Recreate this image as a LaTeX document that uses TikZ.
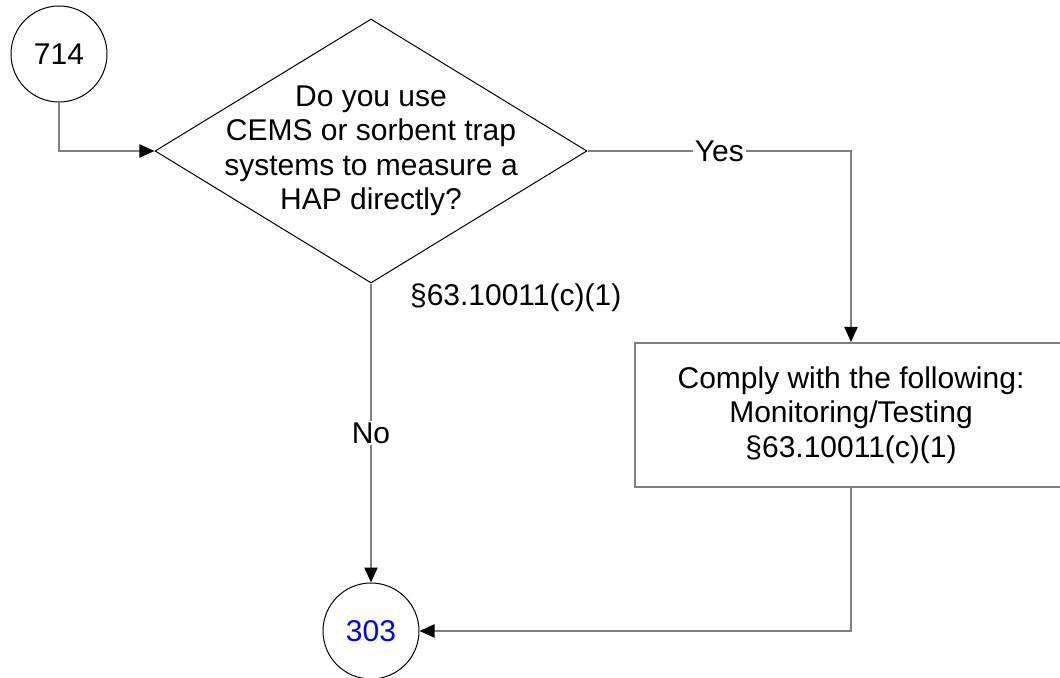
\documentclass[tikz,border=0pt]{standalone}
\usepackage{fontspec}
\setmainfont{Liberation Sans}
\usetikzlibrary{arrows.meta,shapes.geometric}
\definecolor{linegray}{HTML}{808080}

\begin{document}
\begin{tikzpicture}[
    x=0.5pt, y=-0.5pt,
    font=\fontsize{15}{17.25}\selectfont,
    conn/.style={
        circle, draw, line width=0.5pt,
        minimum size=48pt, inner sep=0pt
    },
    decision/.style={
        diamond, draw, line width=0.5pt,
        minimum width=216pt, minimum height=132pt, inner sep=0pt
    },
    block/.style={
        rectangle, draw=linegray, line width=1pt,
        minimum width=216pt, minimum height=72pt, align=center
    },
    lbl/.style={fill=white, inner sep=1pt},
    arr/.style={-{Triangle[length=7.5pt, width=6.5pt, color=black]}, draw=linegray, line width=1pt}
]
\useasboundingbox (0,0) rectangle (1060,678);
\clip (0,0) rectangle (1060,678);
\node[conn] (c714) at (59,54) {714};
\node[decision, label={[align=center]center:{Do you use\\CEMS or sorbent trap\\systems to measure a\\HAP directly?}}] (q) at (371,151) {};
\node[block] (comply) at (851,415) {Comply with the following:\\Monitoring/Testing\\§63.10011(c)(1)};
\node[conn, text=blue] (c303) at (371,631) {303};
\node[anchor=west] (cite) at (403,298) {§63.10011(c)(1)};
\draw[arr] (c714) |- (q);
\draw[arr] (q) -| node[lbl, pos=0.25] {Yes} (comply);
\draw[arr] (q) -- node[lbl] {No} (c303);
\draw[arr] (comply) |- (c303);
\end{tikzpicture}
\end{document}
